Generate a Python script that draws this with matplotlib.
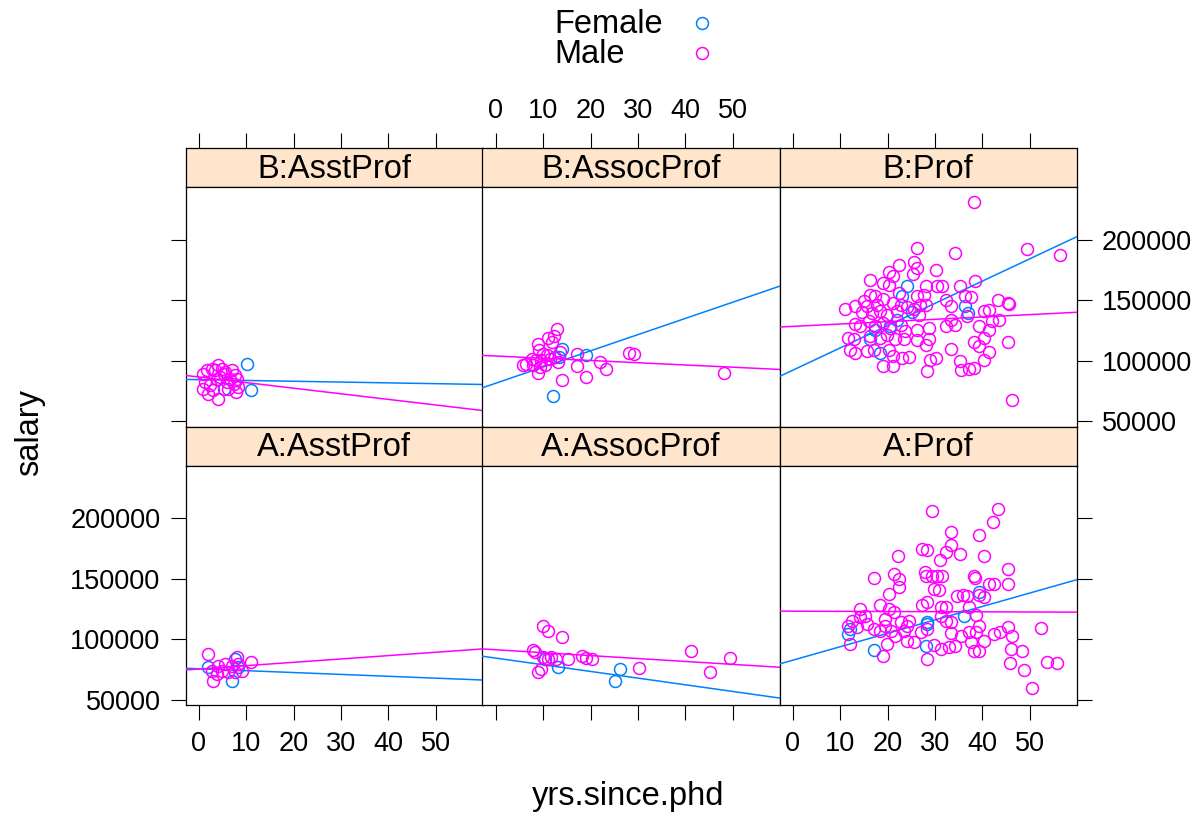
import matplotlib
matplotlib.use("Agg")
import matplotlib.pyplot as plt
import numpy as np

plt.rcParams['font.family'] = ['Liberation Sans', 'DejaVu Sans']

# ---------------- data ----------------
disciplines = ["B", "A"]            # top row, bottom row
ranks = ["AsstProf", "AssocProf", "Prof"]
sexes = ["Female", "Male"]
sex_colors = {"Female": "#0080ff", "Male": "#ff00ff"}

x_ticks = [0, 10, 20, 30, 40, 50]
y_ticks = [50000, 100000, 150000, 200000]
x_limits = (-2.85, 59.85)
y_limits = (45638, 243707)

B_AsstProf_Female = [(10.1, 97000), (10.9, 76020), (5.2, 76850)]
B_AsstProf_Male = [(0.9, 89280), (1.6, 92020), (2.7, 93420), (4.1, 96160), (4.8, 93420),
                   (5.5, 90610), (6.9, 92020), (7.6, 87870), (8.0, 85140), (1.3, 82320),
                   (2.3, 79580), (3.7, 85140), (4.4, 86460), (5.9, 82320), (6.6, 85140),
                   (7.3, 81000), (8.3, 78180), (0.9, 76850), (2.0, 72710), (4.1, 68560),
                   (3.0, 75440), (6.2, 76850), (3.4, 92020), (5.2, 89280), (7.8, 74000)]

B_AssocProf_Female = [(14.0, 110000), (19.1, 104440), (12.1, 70720), (13.2, 103040)]
B_AssocProf_Male = [(12.9, 126560), (12.2, 120190), (11.0, 119110), (11.9, 115470), (8.9, 114140),
                    (13.5, 107180), (9.1, 108590), (10.0, 105850), (10.7, 104440), (7.5, 101700),
                    (8.5, 100300), (9.6, 100300), (11.4, 101700), (12.4, 103040), (6.4, 97570),
                    (5.7, 96160), (7.8, 96160), (9.3, 94750), (10.3, 96160), (13.1, 98890),
                    (8.9, 89780), (17.0, 105270), (17.0, 95580), (14.0, 84310), (19.1, 86460),
                    (22.0, 98890), (23.2, 93420), (28.1, 106680), (29.2, 105850), (48.2, 90110)]

B_Prof_Female = [(24.1, 161630), (23.0, 153340), (25.1, 140080), (17.4, 125740), (18.4, 106350),
                 (16.3, 117860), (20.5, 128500), (21.9, 134030), (36.3, 145050), (37.0, 139500)]
B_Prof_Male = [(26.2, 192870), (22.3, 179610), (25.5, 181520), (26.2, 176790), (20.2, 173230),
               (21.2, 170490), (25.4, 171820), (16.2, 167180), (19.1, 164360), (20.2, 163040),
               (22.3, 156070), (16.3, 154750), (17.4, 153400), (19.1, 151100), (26.2, 153400),
               (27.6, 154750), (14.9, 149200), (13.1, 145630), (11.0, 142820), (15.6, 145000),
               (17.7, 146300), (21.2, 147790), (22.7, 146300), (24.1, 144500), (25.5, 142820),
               (26.9, 146300), (14.6, 140080), (16.7, 139500), (18.4, 140900), (19.8, 138170),
               (21.9, 140900), (26.5, 138170), (13.1, 130720), (14.2, 128500), (16.0, 132620),
               (17.4, 128500), (19.1, 131200), (20.5, 127070), (22.7, 129900), (23.7, 124330),
               (26.2, 125160), (11.7, 118780), (12.8, 117860), (16.3, 120190), (18.4, 118780),
               (19.8, 121100), (21.6, 117860), (23.4, 117860), (26.2, 117500), (12.1, 109170),
               (13.1, 106350), (15.6, 107760), (17.1, 109170), (20.2, 109170), (21.2, 104200),
               (23.0, 102210), (24.4, 103040), (19.1, 95330), (21.2, 95330),
               (38.3, 231490), (34.3, 189220), (49.3, 192540), (56.4, 187070), (30.2, 174890),
               (28.0, 161630), (30.4, 161900), (31.5, 161900), (35.2, 161900), (38.4, 166350),
               (32.2, 150600), (36.4, 153340), (37.5, 152400), (33.3, 145630), (28.0, 146000),
               (43.3, 150600), (45.3, 147790), (45.6, 147000), (40.3, 141490), (41.4, 142000),
               (36.8, 137340), (33.3, 134030), (42.1, 133200), (43.5, 133700), (32.2, 128480),
               (34.3, 129600), (28.7, 127070), (39.3, 128480), (41.4, 125740), (40.3, 118780),
               (28.7, 117860), (28.0, 113300), (38.2, 115220), (39.3, 111900), (45.3, 115220),
               (33.3, 109670), (41.4, 107180), (40.3, 100880), (30.1, 102210), (29.0, 100880),
               (35.2, 100050), (35.5, 92600), (37.2, 93000), (38.2, 93700), (28.3, 91190),
               (46.2, 67730)]

A_AsstProf_Female = [(2.0, 76850), (6.9, 65750), (7.6, 83730), (8.3, 76850)]
A_AsstProf_Male = [(1.8, 87870), (3.0, 65750), (8.0, 85140), (11.0, 81490), (4.1, 78180),
                   (5.5, 79580), (6.9, 78180), (8.3, 79580), (2.7, 74030), (4.8, 74030),
                   (7.6, 72710), (9.0, 74030), (6.2, 72710), (3.7, 71300)]

A_AssocProf_Female = [(10.4, 83730), (13.1, 76850), (26.2, 75440), (25.1, 65250)]
A_AssocProf_Male = [(10.0, 110830), (11.0, 106680), (14.0, 102210), (7.8, 91190), (8.2, 89280),
                    (10.0, 85140), (11.6, 85140), (12.7, 83730), (15.3, 83730), (18.1, 86460),
                    (19.1, 84310), (20.2, 83730), (8.9, 72710), (9.6, 75440), (11.0, 83730),
                    (30.1, 76020), (41.2, 90610), (45.1, 73200), (49.3, 84310)]

A_Prof_Female = [(12.1, 108590), (11.7, 104000), (17.0, 91440), (28.3, 114140), (39.3, 139000),
                 (36.1, 119610), (28.0, 94750), (28.3, 112730)]
A_Prof_Male = [(22.1, 168840), (27.3, 174890), (17.2, 150850), (21.3, 154170), (22.3, 149450),
               (22.3, 143150), (20.2, 137590), (27.9, 156000), (18.3, 128480), (14.2, 125160),
               (20.2, 125160), (21.3, 122430), (27.3, 128480), (14.2, 118280), (15.3, 119100),
               (12.4, 115470), (15.6, 112730), (17.0, 108590), (19.5, 111320), (20.6, 107180),
               (22.7, 114140), (24.4, 115470), (24.1, 111320), (27.0, 105850), (28.3, 108590),
               (21.6, 103040), (24.1, 98890), (25.5, 98000), (19.8, 96160), (12.1, 96160),
               (19.1, 86460), (11.7, 111320), (13.5, 110000), (18.4, 106600), (19.5, 116500),
               (23.4, 107180),
               (29.4, 205800), (43.3, 207460), (42.3, 197010), (33.3, 188720), (39.3, 185910),
               (28.3, 173480), (33.3, 177620), (32.2, 172150), (31.1, 165190), (35.2, 170740),
               (40.3, 168840), (45.3, 157730), (28.0, 152260), (29.4, 152260), (30.4, 152260),
               (31.5, 152260), (38.2, 152260), (38.4, 150600), (41.4, 145880), (42.4, 146000),
               (45.3, 146000), (29.7, 141740), (30.8, 141000), (34.7, 136190), (35.8, 136500),
               (36.8, 136190), (39.3, 137000), (40.3, 135300), (28.3, 130720), (31.2, 126570),
               (32.2, 126570), (37.2, 126570), (38.6, 120190), (31.2, 119300), (33.3, 114140),
               (32.2, 115000), (39.3, 111320), (33.3, 105270), (35.5, 103040), (37.2, 105800),
               (38.6, 105800), (37.5, 97570), (40.3, 98300), (42.4, 104440), (43.8, 105800),
               (45.3, 110000), (46.3, 103040), (52.3, 109170), (29.7, 95330), (31.2, 92020),
               (32.9, 93500), (34.3, 94800), (38.2, 90610), (39.3, 90300), (46.1, 92020),
               (48.3, 90610), (28.3, 83730), (45.8, 80160), (48.8, 74610), (53.7, 81000),
               (55.8, 80500), (50.4, 59700)]

points = {
    ("B", "AsstProf", "Female"): B_AsstProf_Female, ("B", "AsstProf", "Male"): B_AsstProf_Male,
    ("B", "AssocProf", "Female"): B_AssocProf_Female, ("B", "AssocProf", "Male"): B_AssocProf_Male,
    ("B", "Prof", "Female"): B_Prof_Female, ("B", "Prof", "Male"): B_Prof_Male,
    ("A", "AsstProf", "Female"): A_AsstProf_Female, ("A", "AsstProf", "Male"): A_AsstProf_Male,
    ("A", "AssocProf", "Female"): A_AssocProf_Female, ("A", "AssocProf", "Male"): A_AssocProf_Male,
    ("A", "Prof", "Female"): A_Prof_Female, ("A", "Prof", "Male"): A_Prof_Male,
}

# per-panel least-squares lines (intercept, slope) by rank
fit_B_Female_intercept = [84370, 81496, 92287]
fit_B_Female_slope = [-66.2, 1339.0, 1841.0]
fit_B_Male_intercept = [86552, 103922, 128454]
fit_B_Male_slope = [-462.5, -185.2, 194.3]
fit_A_Female_intercept = [75578, 84399, 82754]
fit_A_Female_slope = [-155.0, -551.4, 1110.0]
fit_A_Male_intercept = [75400, 91311, 123222]
fit_A_Male_slope = [277.4, -241.6, -13.2]

fits = {
    ("B", "Female"): (fit_B_Female_intercept, fit_B_Female_slope),
    ("B", "Male"): (fit_B_Male_intercept, fit_B_Male_slope),
    ("A", "Female"): (fit_A_Female_intercept, fit_A_Female_slope),
    ("A", "Male"): (fit_A_Male_intercept, fit_A_Male_slope),
}

# ---------------- layout ----------------
W, H = 1204, 815
fig = plt.figure(figsize=(W / 100, H / 100), dpi=100)


def fax(x0, y0, w, h):
    return fig.add_axes([x0 / W, 1 - (y0 + h) / H, w / W, h / H])


COL_X = [185.5, 482.5, 779.5]
PW = 297
ROW_TOP = [148, 426.5]
SH = 39
PH = 239.5
STRIP_BG = "#ffe5cc"
TICK_FS = 19.5
TEXT_FS = 23.5
TICK_LEN = 11
SPINE_LW = 0.9

for r, disc in enumerate(disciplines):
    for c, rank in enumerate(ranks):
        # strip
        sax = fax(COL_X[c], ROW_TOP[r], PW, SH)
        sax.set_facecolor(STRIP_BG)
        sax.set_xlim(*x_limits)
        sax.set_ylim(0, 1)
        sax.set_yticks([])
        for sp in sax.spines.values():
            sp.set_linewidth(SPINE_LW)
        sax.text(0.5, 0.45, f"{disc}:{rank}", transform=sax.transAxes,
                 ha="center", va="center", fontsize=TEXT_FS)
        if r == 0:
            sax.set_xticks(x_ticks, labels=[str(v) for v in x_ticks])
            sax.tick_params(axis="x", direction="out", length=TICK_LEN, width=0.8,
                            labelsize=TICK_FS, pad=6, top=True, bottom=False,
                            labeltop=(c == 1), labelbottom=False)
        else:
            sax.set_xticks([])

        # panel
        ax = fax(COL_X[c], ROW_TOP[r] + SH, PW, PH)
        ax.set_xlim(*x_limits)
        ax.set_ylim(*y_limits)
        for sp in ax.spines.values():
            sp.set_linewidth(SPINE_LW)
        ax.set_xticks(x_ticks, labels=[str(v) for v in x_ticks])
        ax.set_yticks(y_ticks, labels=[str(v) for v in y_ticks])
        ax.tick_params(axis="both", direction="out", length=TICK_LEN, width=0.8,
                       labelsize=TICK_FS)
        ax.tick_params(axis="x", pad=8, top=False, labeltop=False,
                       bottom=(r == 1), labelbottom=(r == 1 and c != 1))
        ax.tick_params(axis="y", pad=7,
                       left=(c == 0), labelleft=(c == 0 and r == 1),
                       right=(c == 2), labelright=(c == 2 and r == 0))

        for sex in sexes:
            pts = np.array(points[(disc, rank, sex)], dtype=float)
            col = sex_colors[sex]
            ax.plot(pts[:, 0], pts[:, 1], linestyle="none", marker="o",
                    markerfacecolor="none", markeredgecolor=col,
                    markersize=8.6, markeredgewidth=1.1, zorder=3)
            a_list, b_list = fits[(disc, sex)]
            xs = np.array(x_limits)
            ax.plot(xs, a_list[c] + b_list[c] * xs, color=col, lw=1.1, zorder=3)

# overlay for legend and axis titles
oax = fig.add_axes([0, 0, 1, 1], facecolor="none")
oax.set_xlim(0, W)
oax.set_ylim(H, 0)
oax.axis("off")
legend_y = [33.3, 63.3]
for i, sex in enumerate(sexes):
    oax.text(554, legend_y[i], sex, ha="left", va="baseline", fontsize=TEXT_FS)
    oax.plot([701.7], [legend_y[i] - 10.6], linestyle="none", marker="o",
             markerfacecolor="none", markeredgecolor=sex_colors[sex],
             markersize=8.6, markeredgewidth=1.1)

oax.text(30, 433, "salary", rotation=90, ha="center", va="center", fontsize=TEXT_FS)
oax.text(628, 797, "yrs.since.phd", ha="center", va="center", fontsize=TEXT_FS)

fig.savefig("out.png", dpi=100)
